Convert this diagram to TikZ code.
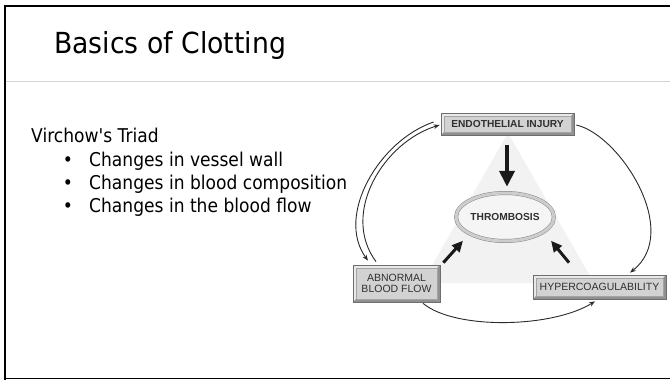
\documentclass[tikz,border=0pt]{standalone}
\usepackage{fontspec}
\setmainfont{DejaVu Sans}
\newfontfamily\titlefont{DejaVu Sans}[FakeStretch=0.92]
\newfontfamily\bodyfont{DejaVu Sans}[FakeStretch=0.9]
\newfontfamily\diafont{Liberation Sans}
\usetikzlibrary{shapes.geometric,arrows.meta}
\definecolor{boxface}{HTML}{D2D2D2}
\definecolor{rimlight}{HTML}{E9E9E9}
\definecolor{rimdark}{HTML}{909090}
\definecolor{boxline}{HTML}{6E6E6E}
\definecolor{innerline}{HTML}{A4A4A4}
\definecolor{diatext}{HTML}{303030}
\definecolor{curvecol}{HTML}{2A2A2A}
\definecolor{trifill}{HTML}{F2F2F2}
\definecolor{sepline}{HTML}{D4D4D4}
\definecolor{ringcol}{HTML}{CDCDCD}
\definecolor{ringline}{HTML}{8A8A8A}
\begin{document}
\begin{tikzpicture}[x=1pt,y=-1pt,
  bevelbox/.style={draw=boxline, line width=0.7pt, fill=boxface, inner sep=0pt,
    text=diatext, align=center,
    path picture={
      \fill[rimlight] (path picture bounding box.north west) -- (path picture bounding box.north east)
        -- ([shift={(-3pt,-3pt)}]path picture bounding box.north east)
        -- ([shift={(3pt,-3pt)}]path picture bounding box.north west) -- cycle;
      \fill[rimlight] (path picture bounding box.north west) -- ([shift={(3pt,-3pt)}]path picture bounding box.north west)
        -- ([shift={(3pt,3pt)}]path picture bounding box.south west)
        -- (path picture bounding box.south west) -- cycle;
      \fill[rimdark] (path picture bounding box.south west) -- (path picture bounding box.south east)
        -- ([shift={(-3pt,3pt)}]path picture bounding box.south east)
        -- ([shift={(3pt,3pt)}]path picture bounding box.south west) -- cycle;
      \fill[rimdark] (path picture bounding box.south east) -- (path picture bounding box.north east)
        -- ([shift={(-3pt,-3pt)}]path picture bounding box.north east)
        -- ([shift={(-3pt,3pt)}]path picture bounding box.south east) -- cycle;
      \draw[innerline, line width=0.4pt] ([shift={(3pt,3pt)}]path picture bounding box.south west)
        rectangle ([shift={(-3pt,-3pt)}]path picture bounding box.north east);
    }},
  regtext/.style={font=\diafont\fontsize{10.5}{12}\selectfont},
  boldtext/.style={font=\diafont\bfseries\fontsize{10.2}{12}\selectfont},
  thincurve/.style={draw=curvecol, line width=0.9pt, -{Stealth[length=6pt,width=4.5pt]}},
  bigarrow/.style={draw=black!90, line width=4pt, -{Triangle[length=16pt,width=15pt]}},
  midarrow/.style={draw=black!90, line width=3pt, -{Triangle[length=11pt,width=10pt]}},
  bodytxt/.style={font=\bodyfont\fontsize{19}{23}\selectfont, inner sep=0pt}
]
\useasboundingbox (0,0) rectangle (670,380);
\fill[white] (0,0) rectangle (670,380);

% slide frame
\draw[line width=2.2pt] (4,6) -- (670,6);
\draw[line width=2pt] (5,5) -- (5,379.5);
\draw[line width=1.6pt] (4,378.6) -- (670,378.6);
\draw[sepline, line width=1pt] (6,81) -- (670,81);

% title
\node[anchor=base west, inner sep=0pt, font=\titlefont\fontsize{29}{34}\selectfont] (title) at (54,53) {Basics of Clotting};

% text
\node[bodytxt, anchor=base west] (vt) at (31,142.7) {Virchow's Triad};
\node[bodytxt, anchor=base] (b1) at (68,166) {•};
\node[bodytxt, anchor=base west] (t1) at (89,166) {Changes in vessel wall};
\node[bodytxt, anchor=base] (b2) at (68,189.3) {•};
\node[bodytxt, anchor=base west] (t2) at (89,189.3) {Changes in blood composition};
\node[bodytxt, anchor=base] (b3) at (68,212.6) {•};
\node[bodytxt, anchor=base west] (t3) at (89,212.6) {Changes in the blood flow};

% background triangle
\fill[trifill] (508,133) -- (422,283) -- (594,283) -- cycle;

% nodes
\node[bevelbox, boldtext, minimum width=133pt, minimum height=22pt] (endo) at (507.5,124) {ENDOTHELIAL INJURY};
\node[bevelbox, regtext, minimum width=87pt, minimum height=37pt] (abn) at (396.5,283.5) {ABNORMAL\\[-1.5pt]BLOOD FLOW};
\node[bevelbox, regtext, minimum width=133pt, minimum height=24pt] (hyper) at (599.5,287) {HYPERCOAGULABILITY};
\node[ellipse, draw=ringline, line width=0.5pt, double=ringcol, double distance=3pt, fill=white!96!black,
      minimum width=80pt, minimum height=48pt, inner sep=0pt, boldtext, text=diatext] (thromb) at (505,217) {THROMBOSIS};

% outer cycle curves
\draw[thincurve] ([xshift=-7pt,yshift=2pt]endo.west) .. controls (380,140) and (335,215) .. ([xshift=-28.5pt,yshift=4pt]abn.north);
\draw[thincurve] ([xshift=-20.5pt,yshift=3pt]abn.north) .. controls (340,213) and (384,142) .. ([xshift=-1pt,yshift=-1pt]endo.west);
\draw[thincurve] ([xshift=2pt,yshift=-1pt]endo.east) .. controls (620,135) and (682,232) .. ([xshift=30.5pt,yshift=2pt]hyper.north);
\draw[thincurve] ([xshift=26.5pt,yshift=-1pt]abn.south) .. controls (455,330) and (552,328) .. ([xshift=-4.5pt,yshift=-2pt]hyper.south);

% arrows to thrombosis
\draw[bigarrow] ([xshift=-0.5pt,yshift=-10pt]endo.south) -- ([xshift=2pt,yshift=6pt]thromb.north);
\draw[midarrow] ([xshift=3pt,yshift=2pt]abn.north east) -- ([xshift=-7.3pt,yshift=-6.6pt]thromb.south west);
\draw[midarrow] ([xshift=-30.5pt,yshift=12pt]hyper.north) -- ([xshift=11.3pt,yshift=-6.6pt]thromb.south east);
\end{tikzpicture}
\end{document}
